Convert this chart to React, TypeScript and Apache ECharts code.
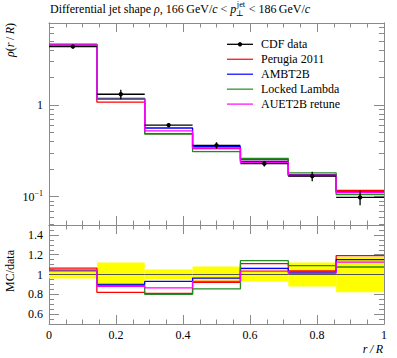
import React, { useEffect, useRef } from 'react';
import * as echarts from 'echarts';

// ---- data ----
const binEdges = [0, 0.142857, 0.285714, 0.428571, 0.571429, 0.714286, 0.857143, 1];
const cdfData = [4.34, 1.31, 0.603, 0.363, 0.229, 0.167, 0.098];
const cdfRelErr = [0.04, 0.12, 0.05, 0.08, 0.07, 0.12, 0.18];
const perugia2011 = [4.62, 1.074, 0.488, 0.334, 0.254, 0.173, 0.1166];
const ambt2b = [4.51, 1.179, 0.561, 0.35, 0.243, 0.171, 0.1127];
const lockedLambda = [4.51, 1.166, 0.482, 0.31, 0.261, 0.182, 0.1054];
const auet2bRetune = [4.54, 1.153, 0.522, 0.338, 0.237, 0.169, 0.1103];

// ---- axis ticks ----
const yMajorTicks = [0.1, 1];
const yMinorTicks = [0.05, 0.06, 0.07, 0.08, 0.09, 0.2, 0.3, 0.4, 0.5, 0.6, 0.7, 0.8, 0.9, 2, 3, 4, 5, 6, 7];
const ratioMajorTicks = [0.6, 0.8, 1, 1.2, 1.4];
const ratioMinorTicks = [0.55, 0.65, 0.7, 0.75, 0.85, 0.9, 0.95, 1.05, 1.1, 1.15, 1.25, 1.3, 1.35, 1.45];

const FONT = "'Liberation Serif', 'DejaVu Serif', serif";
const FRAME = '#8a8a8a';
const Y_MIN = 0.049;
const Y_MAX = 7.85;

const mcList = [
  { name: 'Perugia 2011', color: '#ff0000', values: perugia2011 },
  { name: 'AMBT2B', color: '#0000ff', values: ambt2b },
  { name: 'Locked Lambda', color: '#228b22', values: lockedLambda },
  { name: 'AUET2B retune', color: '#ff00ff', values: auet2bRetune },
];

function stepPoints(vals: number[]) {
  const pts: number[][] = vals.map((v, i) => [binEdges[i], v]);
  pts.push([binEdges[binEdges.length - 1], vals[vals.length - 1]]);
  return pts;
}

let measureCtx: CanvasRenderingContext2D | null = null;
function measure(text: string, size: number, italic: boolean) {
  if (!measureCtx) measureCtx = document.createElement('canvas').getContext('2d');
  measureCtx!.font = `${italic ? 'italic ' : ''}${size}px ${FONT}`;
  return measureCtx!.measureText(text).width;
}

function buildTitle(x0: number, yMid: number, size: number) {
  const segs: any[] = [
    { t: 'Differential jet shape ', i: false },
    { t: 'ρ', i: true },
    { t: ', 166\u2009GeV/', i: false },
    { t: 'c', i: true },
    { t: ' < ', i: false },
    { t: 'p', i: true },
    { sup: 'jet', sub: '⊥' },
    { t: ' < 186\u2009GeV/', i: false },
    { t: 'c', i: true },
  ];
  const els: any[] = [];
  let x = x0;
  for (const s of segs) {
    if (s.sup) {
      const ss = size * 0.7;
      els.push({ type: 'text', x: x + 0.5, y: yMid - 4, style: { text: s.sup, font: `${ss}px ${FONT}`, fill: '#000', verticalAlign: 'middle' } });
      els.push({ type: 'text', x: x - 0.5, y: yMid + 4.5, style: { text: s.sub, font: `${ss}px ${FONT}`, fill: '#000', verticalAlign: 'middle' } });
      x += Math.max(measure(s.sup, ss, false), measure(s.sub, ss, false)) + 1;
    } else {
      els.push({ type: 'text', x, y: yMid, style: { text: s.t, font: `${s.i ? 'italic ' : ''}${size}px ${FONT}`, fill: '#000', verticalAlign: 'middle' } });
      x += measure(s.t, size, s.i);
    }
  }
  return els;
}

function buildLegend() {
  const items = [{ name: 'CDF data', color: '#000', dot: true }, ...mcList.map((m) => ({ name: m.name, color: m.color, dot: false }))];
  const els: any[] = [];
  items.forEach((it, k) => {
    const y = 44.3 + k * 14.95;
    els.push({ type: 'line', shape: { x1: 227, y1: y, x2: 253, y2: y }, style: { stroke: it.color, lineWidth: it.dot ? 1.3 : 1.2 } });
    if (it.dot) els.push({ type: 'circle', shape: { cx: 240, cy: y, r: 2.2 }, style: { fill: '#000' } });
    els.push({ type: 'text', x: 261, y, style: { text: it.name, font: `12px ${FONT}`, fill: '#000', verticalAlign: 'middle' } });
  });
  return els;
}

const lineStyle = { color: FRAME, width: 1 };

function xAxis(gridIndex: number, position: string, showLabel: boolean) {
  return {
    type: 'value', gridIndex, position, min: 0, max: 1, interval: 0.2,
    axisLine: { show: true, onZero: false, lineStyle },
    axisTick: { show: true, inside: true, length: 9, lineStyle },
    minorTick: { show: true, splitNumber: 4, length: 4.5, lineStyle },
    axisLabel: showLabel ? { show: true, margin: 5, color: '#000', fontFamily: FONT, fontSize: 12 } : { show: false },
    splitLine: { show: false }, minorSplitLine: { show: false },
  };
}

function logAxis(position: string, ticks: number[], length: number, labels: boolean) {
  return {
    type: 'log', logBase: 10, gridIndex: 0, position, min: Y_MIN, max: Y_MAX,
    axisLine: { show: true, onZero: false, lineStyle },
    axisTick: { show: true, inside: true, length, customValues: ticks, lineStyle },
    axisLabel: labels
      ? {
          show: true, customValues: yMajorTicks, margin: 6, color: '#000', fontFamily: FONT, fontSize: 12,
          formatter: (v: number) => (v > 0.5 ? '1' : '{b|10}{s|\u22121}'),
          rich: { b: { fontFamily: FONT, fontSize: 12, color: '#000' }, s: { fontFamily: FONT, fontSize: 8, color: '#000', padding: [0, 0, 7, 0] } },
        }
      : { show: false },
    splitLine: { show: false }, minorTick: { show: false }, minorSplitLine: { show: false },
  };
}

function ratioAxis(position: string, ticks: number[], length: number, labels: boolean) {
  return {
    type: 'value', gridIndex: 1, position, min: 0.5, max: 1.5,
    axisLine: { show: true, onZero: false, lineStyle },
    axisTick: { show: true, inside: true, length, customValues: ticks, lineStyle },
    axisLabel: labels
      ? { show: true, customValues: ratioMajorTicks, margin: 6, color: '#000', fontFamily: FONT, fontSize: 12 }
      : { show: false },
    splitLine: { show: false }, minorTick: { show: false }, minorSplitLine: { show: false },
  };
}

export default function App() {
  const ref = useRef<HTMLDivElement>(null);
  useEffect(() => {
    const chart = echarts.init(ref.current!, null, { renderer: 'svg', width: 397, height: 358 });

    const series: any[] = [];
    mcList.forEach((m) => {
      series.push({
        name: m.name, type: 'line', xAxisIndex: 0, yAxisIndex: 0, step: 'end', symbol: 'none',
        data: stepPoints(m.values), lineStyle: { color: m.color, width: 1.3 }, itemStyle: { color: m.color }, z: 3,
      });
    });
    series.push({
      name: 'CDF data', type: 'custom', xAxisIndex: 0, yAxisIndex: 0, z: 5, clip: true,
      data: cdfData.map((v, i) => [binEdges[i], binEdges[i + 1], v, v * (1 - cdfRelErr[i]), v * (1 + cdfRelErr[i])]),
      encode: { x: [0, 1], y: [2, 3, 4] },
      renderItem: (_p: any, api: any) => {
        const lo = api.coord([api.value(0), api.value(2)]);
        const hi = api.coord([api.value(1), api.value(2)]);
        const cx = (lo[0] + hi[0]) / 2;
        const eLo = api.coord([api.value(0), api.value(3)]);
        const eHi = api.coord([api.value(0), api.value(4)]);
        return {
          type: 'group',
          children: [
            { type: 'line', shape: { x1: lo[0], y1: lo[1], x2: hi[0], y2: hi[1] }, style: { stroke: '#000', lineWidth: 1.3 } },
            { type: 'line', shape: { x1: cx, y1: eHi[1], x2: cx, y2: eLo[1] }, style: { stroke: '#000', lineWidth: 1.3 } },
            { type: 'circle', shape: { cx, cy: lo[1], r: 2.2 }, style: { fill: '#000' } },
          ],
        };
      },
    });
    // ratio panel
    series.push({
      name: 'band', type: 'custom', xAxisIndex: 2, yAxisIndex: 4, z: 1, clip: true,
      data: cdfData.map((v, i) => [binEdges[i], binEdges[i + 1], 1 - cdfRelErr[i], 1 + cdfRelErr[i]]),
      encode: { x: [0, 1], y: [2, 3] },
      renderItem: (_p: any, api: any) => {
        const a = api.coord([api.value(0), api.value(3)]);
        const b = api.coord([api.value(1), api.value(2)]);
        return { type: 'rect', shape: { x: a[0], y: a[1], width: b[0] - a[0], height: b[1] - a[1] }, style: { fill: '#ffff00' } };
      },
    });
    series.push({
      name: 'data ratio', type: 'line', xAxisIndex: 2, yAxisIndex: 4, step: 'end', symbol: 'none', z: 2,
      data: stepPoints(cdfData.map((v) => v / v)), lineStyle: { color: '#555', width: 1 },
    });
    mcList.forEach((m) => {
      series.push({
        name: m.name + ' ratio', type: 'line', xAxisIndex: 2, yAxisIndex: 4, step: 'end', symbol: 'none', z: 3,
        data: stepPoints(m.values.map((v, i) => v / cdfData[i])), lineStyle: { color: m.color, width: 1.3 },
      });
    });

    const option: any = {
      animation: false,
      backgroundColor: '#fff',
      grid: [
        { left: 49, top: 23, width: 335, height: 202 },
        { left: 49, top: 225, width: 335, height: 99 },
      ],
      xAxis: [xAxis(0, 'bottom', false), xAxis(0, 'top', false), xAxis(1, 'bottom', true), xAxis(1, 'top', false)],
      yAxis: [
        logAxis('left', yMajorTicks, 10, true),
        logAxis('left', yMinorTicks, 5, false),
        logAxis('right', yMajorTicks, 10, false),
        logAxis('right', yMinorTicks, 5, false),
        ratioAxis('left', ratioMajorTicks, 10, true),
        ratioAxis('left', ratioMinorTicks, 5, false),
        ratioAxis('right', ratioMajorTicks, 10, false),
        ratioAxis('right', ratioMinorTicks, 5, false),
      ],
      series,
      graphic: [
        ...buildTitle(50, 8.5, 12),
        ...buildLegend(),
        { type: 'text', x: 383, y: 349, style: { text: 'r\u2009/\u2009R', font: `italic 12px ${FONT}`, fill: '#000', align: 'right', verticalAlign: 'middle' } },
        {
          type: 'text', x: 10, y: 23, rotation: Math.PI / 2,
          style: {
            text: '{i|ρ}(r\u2009/\u2009{i|R})'.replace('(r', '({i|r}'),
            align: 'right', verticalAlign: 'middle', fill: '#000', font: `12px ${FONT}`,
            rich: { i: { fontStyle: 'italic', fontFamily: FONT, fontSize: 12, fill: '#000' } },
          },
        },
        { type: 'text', x: 10, y: 271, rotation: Math.PI / 2, style: { text: 'MC/data', font: `12px ${FONT}`, fill: '#000', align: 'center', verticalAlign: 'middle' } },
      ],
    };
    chart.setOption(option);
    return () => chart.dispose();
  }, []);
  return <div ref={ref} style={{ position: 'fixed', left: 0, top: 0, width: 397, height: 358 }} />;
}
